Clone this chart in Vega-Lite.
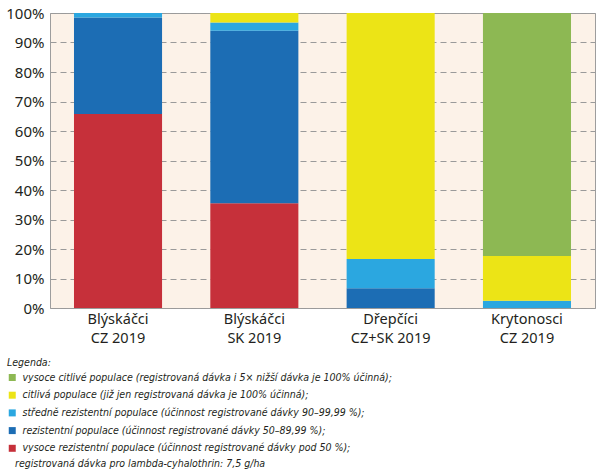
{
  "$schema": "https://vega.github.io/schema/vega-lite/v6.json",
  "autosize": {"type": "none"},
  "width": 545,
  "height": 295,
  "padding": {"left": 50, "top": 13, "right": 5, "bottom": 165},
  "background": "white",
  "config": {
    "view": {"fill": "#FCF2E8", "stroke": "#9d9d9d", "strokeWidth": 1},
    "font": "Noto Sans"
  },
  "title": {
    "text": "registrovaná dávka pro lambda-cyhalothrin: 7,5 g/ha",
    "orient": "bottom",
    "anchor": "start",
    "frame": "group",
    "dx": -35,
    "offset": 5,
    "baseline": "top",
    "font": "DejaVu Sans Condensed",
    "fontStyle": "italic",
    "fontWeight": "normal",
    "fontSize": 10.5,
    "color": "#231F20"
  },
  "data": {
    "values": [
      {"group": "Blýskáčci|CZ 2019", "cat": "vysoce rezistentní populace (účinnost registrované dávky pod 50 %);", "value": 0.658, "ord": 1},
      {"group": "Blýskáčci|CZ 2019", "cat": "rezistentní populace (účinnost registrované dávky 50–89,99 %);", "value": 0.327, "ord": 2},
      {"group": "Blýskáčci|CZ 2019", "cat": "středně rezistentní populace (účinnost registrované dávky 90–99,99 %);", "value": 0.015, "ord": 3},
      {"group": "Blýskáčci|SK 2019", "cat": "vysoce rezistentní populace (účinnost registrované dávky pod 50 %);", "value": 0.355, "ord": 1},
      {"group": "Blýskáčci|SK 2019", "cat": "rezistentní populace (účinnost registrované dávky 50–89,99 %);", "value": 0.585, "ord": 2},
      {"group": "Blýskáčci|SK 2019", "cat": "středně rezistentní populace (účinnost registrované dávky 90–99,99 %);", "value": 0.028, "ord": 3},
      {"group": "Blýskáčci|SK 2019", "cat": "citlivá populace (již jen registrovaná dávka je 100% účinná);", "value": 0.032, "ord": 4},
      {"group": "Dřepčíci|CZ+SK 2019", "cat": "rezistentní populace (účinnost registrované dávky 50–89,99 %);", "value": 0.067, "ord": 2},
      {"group": "Dřepčíci|CZ+SK 2019", "cat": "středně rezistentní populace (účinnost registrované dávky 90–99,99 %);", "value": 0.099, "ord": 3},
      {"group": "Dřepčíci|CZ+SK 2019", "cat": "citlivá populace (již jen registrovaná dávka je 100% účinná);", "value": 0.834, "ord": 4},
      {"group": "Krytonosci|CZ 2019", "cat": "středně rezistentní populace (účinnost registrované dávky 90–99,99 %);", "value": 0.025, "ord": 3},
      {"group": "Krytonosci|CZ 2019", "cat": "citlivá populace (již jen registrovaná dávka je 100% účinná);", "value": 0.151, "ord": 4},
      {"group": "Krytonosci|CZ 2019", "cat": "vysoce citlivé populace (registrovaná dávka i 5× nižší dávka je 100% účinná);", "value": 0.824, "ord": 5}
    ]
  },
  "mark": {"type": "bar"},
  "encoding": {
    "x": {
      "field": "group",
      "type": "nominal",
      "sort": null,
      "scale": {"paddingInner": 0.354, "paddingOuter": 0.176},
      "axis": {
        "title": null,
        "labelExpr": "split(datum.label, '|')",
        "labelAngle": 0,
        "labelFontSize": 14.5,
        "labelFontWeight": "normal",
        "labelLineHeight": 19,
        "labelPadding": 4,
        "labelColor": "#231F20",
        "ticks": false,
        "domain": false
      }
    },
    "y": {
      "field": "value",
      "type": "quantitative",
      "stack": "zero",
      "scale": {"domain": [0, 1], "nice": false},
      "axis": {
        "title": null,
        "format": ".0%",
        "values": [0, 0.1, 0.2, 0.3, 0.4, 0.5, 0.6, 0.7, 0.8, 0.9, 1],
        "labelFontSize": 15,
        "labelPadding": 6,
        "labelColor": "#231F20",
        "ticks": false,
        "domain": false,
        "grid": true,
        "gridColor": "#9a9a9a",
        "gridDash": [6, 4],
        "gridWidth": 1
      }
    },
    "order": {"field": "ord", "type": "quantitative"},
    "color": {
      "field": "cat",
      "type": "nominal",
      "scale": {
        "domain": [
          "vysoce citlivé populace (registrovaná dávka i 5× nižší dávka je 100% účinná);",
          "citlivá populace (již jen registrovaná dávka je 100% účinná);",
          "středně rezistentní populace (účinnost registrované dávky 90–99,99 %);",
          "rezistentní populace (účinnost registrované dávky 50–89,99 %);",
          "vysoce rezistentní populace (účinnost registrované dávky pod 50 %);"
        ],
        "range": ["#8DB853", "#ECE416", "#2BA7E0", "#1C6DB4", "#C6303A"]
      },
      "legend": {
        "title": "Legenda:",
        "orient": "none",
        "legendX": -43,
        "legendY": 345,
        "direction": "vertical",
        "padding": 0,
        "symbolType": "square",
        "symbolSize": 49,
        "symbolStrokeWidth": 0,
        "labelFont": "DejaVu Sans Condensed",
        "labelFontStyle": "italic",
        "labelFontSize": 10.5,
        "labelColor": "#231F20",
        "labelLimit": 600,
        "labelOffset": 5,
        "rowPadding": 6.7,
        "titleFont": "DejaVu Sans Condensed",
        "titleFontStyle": "italic",
        "titleFontWeight": "normal",
        "titleFontSize": 10.5,
        "titleColor": "#231F20",
        "titlePadding": 3.75,
        "titleLimit": 600
      }
    }
  }
}
